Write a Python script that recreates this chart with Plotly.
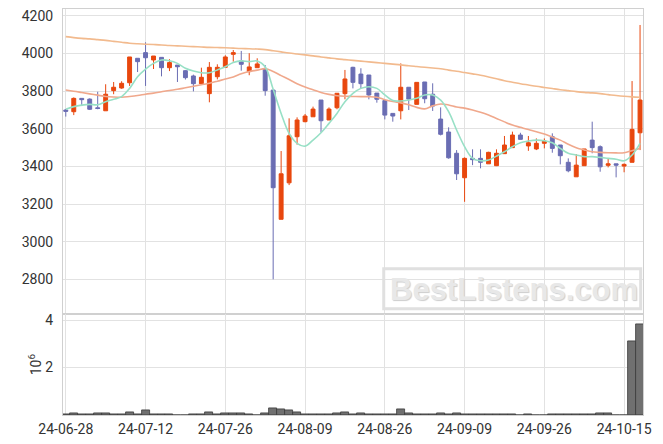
import plotly.graph_objects as go

dates = ["24-06-28","24-07-01","24-07-02","24-07-03","24-07-04","24-07-05","24-07-08","24-07-09","24-07-10","24-07-11",
         "24-07-12","24-07-15","24-07-16","24-07-17","24-07-18","24-07-19","24-07-22","24-07-23","24-07-24","24-07-25",
         "24-07-26","24-07-29","24-07-30","24-07-31","24-08-01","24-08-02","24-08-05","24-08-06","24-08-07","24-08-08",
         "24-08-09","24-08-12","24-08-13","24-08-14","24-08-16","24-08-19","24-08-20","24-08-21","24-08-22","24-08-23",
         "24-08-26","24-08-27","24-08-28","24-08-29","24-08-30","24-09-02","24-09-03","24-09-04","24-09-05","24-09-06",
         "24-09-09","24-09-10","24-09-11","24-09-12","24-09-13","24-09-19","24-09-20","24-09-23","24-09-24","24-09-25",
         "24-09-26","24-09-27","24-09-30","24-10-02","24-10-04","24-10-07","24-10-08","24-10-10","24-10-11","24-10-14",
         "24-10-15","24-10-16","24-10-17"]

open_ = [3700,3691,3762,3758,3712,3696,3803,3817,3845,3975,
         4005,3966,3980,3925,3939,3909,3881,3840,3787,3877,
         3927,3996,3961,3904,3925,3918,3806,3119,3313,3558,
         3638,3664,3753,3647,3712,3787,3927,3891,3886,3790,
         3750,3682,3696,3821,3730,3849,3784,3652,3583,3470,
         3340,3443,3443,3414,3404,3468,3500,3567,3509,3493,
         3523,3558,3514,3422,3345,3404,3540,3505,3406,3414,
         3402,3422,3579]
high = [3705,3767,3762,3762,3797,3837,3849,3853,3982,3975,
        4060,3987,3980,3970,3939,3912,3888,3925,3955,3943,
        3991,4019,4014,4002,3975,3939,3806,3482,3656,3661,
        3679,3718,3753,3714,3789,3913,3930,3922,3886,3790,
        3753,3682,3948,3821,3847,3849,3842,3714,3608,3487,
        3448,3491,3491,3478,3491,3562,3585,3579,3562,3549,
        3549,3576,3514,3443,3466,3493,3638,3512,3443,3414,
        3416,3854,4152]
low = [3665,3673,3721,3700,3704,3696,3784,3813,3828,3902,
       3828,3918,3879,3907,3849,3862,3799,3840,3741,3863,
       3927,3957,3909,3885,3925,3776,2800,3119,3301,3516,
       3635,3664,3581,3647,3704,3757,3815,3815,3757,3739,
       3650,3638,3650,3700,3730,3736,3695,3565,3441,3328,
       3212,3407,3390,3414,3402,3468,3500,3544,3483,3487,
       3496,3473,3411,3369,3345,3404,3470,3372,3395,3342,
       3369,3422,3487]
close = [3693,3762,3755,3704,3708,3784,3821,3842,3982,3957,
         3978,3987,3925,3952,3930,3872,3840,3874,3927,3927,
         3982,4005,3943,3929,3945,3803,3287,3361,3563,3647,
         3668,3705,3643,3705,3789,3865,3847,3840,3780,3757,
         3673,3668,3821,3758,3847,3760,3721,3571,3446,3361,
         3443,3436,3422,3475,3470,3514,3567,3544,3526,3523,
         3535,3496,3457,3377,3407,3493,3500,3398,3414,3407,
         3411,3597,3753]

ma5 = [3704,3718,3726,3730,3728,3744,3757,3771,3815,3877,
       3918,3948,3966,3962,3948,3922,3907,3898,3898,3913,
       3930,3952,3961,3957,3961,3930,3810,3682,3576,3523,
       3508,3540,3579,3629,3682,3744,3789,3815,3824,3815,
       3780,3750,3748,3753,3762,3780,3780,3753,3691,3594,
       3505,3443,3430,3434,3455,3478,3505,3526,3535,3540,
       3537,3526,3496,3470,3461,3452,3452,3448,3443,3438,
       3430,3461,3523]
ma20 = [3806,3800,3793,3786,3779,3772,3769,3768,3772,3777,
        3784,3790,3797,3804,3810,3818,3826,3834,3842,3853,
        3865,3876,3893,3905,3912,3920,3905,3883,3862,3840,
        3822,3808,3793,3783,3776,3773,3772,3771,3771,3768,
        3755,3745,3738,3728,3714,3706,3722,3732,3727,3716,
        3710,3700,3688,3673,3655,3637,3620,3608,3596,3585,
        3572,3556,3540,3518,3500,3488,3478,3475,3473,3472,
        3473,3484,3496]
ma120 = [4090,4085,4081,4078,4074,4070,4065,4060,4055,4052,
         4050,4048,4046,4043,4041,4039,4037,4035,4033,4032,
         4031,4029,4027,4026,4024,4021,4015,4009,4003,3998,
         3993,3988,3982,3977,3972,3968,3964,3960,3956,3952,
         3948,3944,3940,3935,3931,3927,3923,3919,3912,3906,
         3899,3892,3885,3876,3866,3856,3848,3840,3833,3826,
         3820,3814,3808,3803,3798,3794,3791,3787,3782,3777,
         3773,3770,3768]

volume_m = [0.04,0.08,0.04,0.04,0.07,0.07,0.04,0.04,0.12,0.04,
            0.20,0.04,0.04,0.04,0.0,0.0,0.04,0.04,0.12,0.04,
            0.07,0.07,0.07,0.04,0.0,0.07,0.30,0.22,0.18,0.10,
            0.04,0.04,0.04,0.04,0.07,0.11,0.04,0.07,0.04,0.04,
            0.04,0.04,0.22,0.08,0.04,0.04,0.04,0.07,0.04,0.07,
            0.04,0.04,0.04,0.04,0.04,0.04,0.04,0.0,0.05,0.0,
            0.0,0.04,0.04,0.04,0.04,0.04,0.04,0.07,0.07,0.0,
            0.0,3.10,3.84]

tick_dates = dates[::10]
price_ticks = [2800, 3000, 3200, 3400, 3600, 3800, 4000, 4200]
vol_ticks = [2, 4]

GRID = "#E2E2E2"
LINE = "#D0D0D0"
TXT = "#333333"
FONT = "Roboto"

fig = go.Figure()

fig.add_trace(go.Scatter(x=dates, y=ma120, mode="lines", line=dict(color="#F2BA8E", width=1.6, shape="spline"),
                         xaxis="x", yaxis="y", hoverinfo="skip"))
fig.add_trace(go.Scatter(x=dates, y=ma20, mode="lines", line=dict(color="#F0A88C", width=1.6, shape="spline"),
                         xaxis="x", yaxis="y", hoverinfo="skip"))
fig.add_trace(go.Scatter(x=dates, y=ma5, mode="lines", line=dict(color="#98E0C6", width=1.6, shape="spline"),
                         xaxis="x", yaxis="y", hoverinfo="skip"))

fig.add_trace(go.Candlestick(
    x=dates, open=open_, high=high, low=low, close=close,
    increasing=dict(line=dict(color="#E8470E", width=1), fillcolor="#E8470E"),
    decreasing=dict(line=dict(color="#6A6DB3", width=1), fillcolor="#6A6DB3"),
    whiskerwidth=0, xaxis="x", yaxis="y"))

fig.add_trace(go.Bar(x=dates, y=volume_m, marker=dict(color="#707070", line=dict(color="#3A3A3A", width=0.8)),
                     xaxis="x2", yaxis="y2"))

main_bottom = 0.248

fig.update_layout(
    width=647, height=436,
    margin=dict(l=54.5, r=12, t=1, b=29, autoexpand=False),
    paper_bgcolor="white", plot_bgcolor="white",
    showlegend=False,
    bargap=0,
    font=dict(family=FONT, size=14, color=TXT),
    xaxis=dict(type="category", domain=[0, 1], anchor="y", range=[-0.35, 72.37],
               tickmode="array", tickvals=tick_dates, showticklabels=False,
               showgrid=True, gridcolor=GRID, gridwidth=1, ticks="", automargin=False,
               showline=True, mirror=True, linecolor=LINE, linewidth=1,
               rangeslider=dict(visible=False), zeroline=False),
    xaxis2=dict(type="category", domain=[0, 1], anchor="y2", matches="x",
                tickmode="array", tickvals=tick_dates, ticktext=tick_dates,
                showgrid=True, gridcolor=GRID, gridwidth=1, ticks="", automargin=False,
                showline=True, mirror=True, linecolor=LINE, linewidth=1,
                tickfont=dict(family=FONT, size=14, color=TXT), ticklabelstandoff=1,
                ticklabeloverflow="allow",
                rangeslider=dict(visible=False), zeroline=False),
    yaxis=dict(domain=[main_bottom, 1], anchor="x", range=[2614, 4237],
               tickmode="array", tickvals=price_ticks, automargin=False,
               showgrid=True, gridcolor=GRID, gridwidth=1, ticks="",
               showline=True, mirror=True, linecolor=LINE, linewidth=1, zeroline=False,
               tickfont=dict(family=FONT, size=14, color=TXT), ticklabelstandoff=6,
               ticklabeloverflow="allow"),
    yaxis2=dict(domain=[0, main_bottom], anchor="x2", range=[0, 4.24],
                tickmode="array", tickvals=vol_ticks, automargin=False,
                showgrid=True, gridcolor=GRID, gridwidth=1, ticks="",
                showline=True, mirror=True, linecolor=LINE, linewidth=1, zeroline=False,
                tickfont=dict(family=FONT, size=14, color=TXT), ticklabelstandoff=6,
                ticklabeloverflow="allow",
                title=dict(text="10<sup>6</sup>", font=dict(family=FONT, size=14, color=TXT), standoff=0)),
    shapes=[dict(type="rect", xref="paper", yref="paper", x0=0.553, x1=0.996, y0=0.262, y1=0.360,
                 line=dict(color="#E0E0E0", width=3), fillcolor="rgba(0,0,0,0)", layer="above")],
    annotations=[dict(text="BestListens.com", xref="paper", yref="paper", x=0.777, y=0.310,
                      xanchor="center", yanchor="middle", showarrow=False,
                      font=dict(family="Liberation Sans", size=31, color="#E8E8E8", weight="bold",
                                shadow="1px 1px 1px #CDCDCD"))],
)

fig.write_html("out.html")
